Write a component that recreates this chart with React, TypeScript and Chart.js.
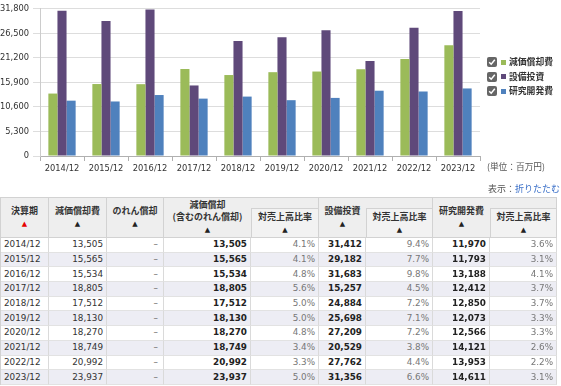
import React, { useEffect, useRef } from 'react';
import { Chart, registerables } from 'chart.js';

Chart.register(...registerables);

const periods = ['2014/12', '2015/12', '2016/12', '2017/12', '2018/12', '2019/12', '2020/12', '2021/12', '2022/12', '2023/12'];
const depreciation = [13505, 15565, 15534, 18805, 17512, 18130, 18270, 18749, 20992, 23937];
const depreciationTotal = [13505, 15565, 15534, 18805, 17512, 18130, 18270, 18749, 20992, 23937];
const capex = [31412, 29182, 31683, 15257, 24884, 25698, 27209, 20529, 27762, 31356];
const rnd = [11970, 11793, 13188, 12412, 12850, 12073, 12566, 14121, 13953, 14611];
const depRatio = ['4.1%', '4.1%', '4.8%', '5.6%', '5.0%', '5.0%', '4.8%', '3.4%', '3.3%', '5.0%'];
const capexRatio = ['9.4%', '7.7%', '9.8%', '4.5%', '7.2%', '7.1%', '7.2%', '3.8%', '4.4%', '6.6%'];
const rndRatio = ['3.6%', '3.1%', '4.1%', '3.7%', '3.7%', '3.3%', '3.3%', '2.6%', '2.2%', '3.1%'];
const seriesNames = ['減価償却費', '設備投資', '研究開発費'];
const seriesColors = ['#9bbb59', '#5f497a', '#4f81bd'];
const yMax = 31800;
const yStep = 5300;

const fmt = (v: number) => v.toLocaleString('en-US');

const LATIN = '"DejaVu Sans", "Noto Sans CJK JP", sans-serif';
const CJK = '"Noto Sans CJK JP", "DejaVu Sans", sans-serif';
const BORDER = '1px solid #d2d2d2';
const HEAD_BG = '#eeeeee';

const th: React.CSSProperties = {
  background: HEAD_BG,
  borderRight: BORDER,
  borderBottom: BORDER,
  fontFamily: CJK,
  fontWeight: 700,
  fontSize: 9,
  lineHeight: '12px',
  color: '#333',
  textAlign: 'center',
  verticalAlign: 'middle',
  padding: 0,
};

const Tri = ({ red }: { red?: boolean }) => (
  <span style={{ fontSize: 7, color: red ? '#e60000' : '#222', fontFamily: LATIN }}>▲</span>
);

const CheckBox = () => (
  <svg width="10" height="10" viewBox="0 0 10 10" style={{ display: 'block' }}>
    <rect x="0" y="0" width="10" height="10" rx="2" fill="#666" />
    <polyline points="2.2,5.2 4.2,7.2 7.8,2.8" fill="none" stroke="#fff" strokeWidth="1.5" />
  </svg>
);

export default function App() {
  const canvasRef = useRef<HTMLCanvasElement | null>(null);

  useEffect(() => {
    document.body.style.margin = '0';
    const canvas = canvasRef.current;
    if (!canvas) return;
    const tickFont = { family: '"DejaVu Sans", sans-serif', size: 8.3 };
    const chart = new Chart(canvas, {
      type: 'bar',
      data: {
        labels: periods,
        datasets: [
          { label: seriesNames[0], data: depreciation, backgroundColor: seriesColors[0], categoryPercentage: 0.62, barPercentage: 1 },
          { label: seriesNames[1], data: capex, backgroundColor: seriesColors[1], categoryPercentage: 0.62, barPercentage: 1 },
          { label: seriesNames[2], data: rnd, backgroundColor: seriesColors[2], categoryPercentage: 0.62, barPercentage: 1 },
        ],
      },
      options: {
        animation: false,
        responsive: false,
        maintainAspectRatio: false,
        layout: { padding: { top: 4, right: 81, left: 0, bottom: 0 } },
        plugins: { legend: { display: false }, tooltip: { enabled: false } },
        scales: {
          x: {
            offset: true,
            grid: { offset: true, drawOnChartArea: false, drawTicks: true, tickLength: 5, color: '#b0b0b0' },
            border: { display: true, color: '#b0b0b0' },
            ticks: { font: tickFont, color: '#333', padding: 3, maxRotation: 0, autoSkip: false },
            afterFit: (s: any) => { s.height = 22; },
          },
          y: {
            min: 0,
            max: yMax,
            ticks: { stepSize: yStep, font: tickFont, color: '#333', padding: 4, callback: (v: any) => fmt(Number(v)) },
            grid: { color: '#dddddd', tickLength: 7 },
            border: { display: true, color: '#cccccc' },
            afterFit: (s: any) => { s.width = 40; },
          },
        },
      },
    } as any);
    return () => chart.destroy();
  }, []);

  const colWidths = [48, 58, 57, 87, 68, 47, 67, 57, 67];

  const tdBase: React.CSSProperties = {
    borderRight: '1px solid #dadada',
    borderBottom: '1px solid #e2e2e2',
    fontFamily: LATIN,
    fontSize: 8.8,
    lineHeight: '13px',
    padding: '0 3px',
    textAlign: 'right',
    whiteSpace: 'nowrap',
    overflow: 'hidden',
  };
  const tdNum: React.CSSProperties = { ...tdBase, color: '#333' };
  const tdBold: React.CSSProperties = { ...tdBase, color: '#222', fontWeight: 700 };
  const tdPct: React.CSSProperties = { ...tdBase, color: '#777' };

  return (
    <div style={{ position: 'relative', width: 561, height: 386, overflow: 'hidden', background: '#fff' }}>
      <canvas ref={canvasRef} width={561} height={178} style={{ display: 'block', position: 'absolute', left: 0, top: 0 }} />

      {seriesNames.map((name, i) => (
        <div key={name} style={{ position: 'absolute', left: 487, top: 56 + i * 14.5, height: 12, display: 'flex', alignItems: 'center' }}>
          <CheckBox />
          <span style={{ display: 'inline-block', width: 5, height: 5, background: seriesColors[i], marginLeft: 4 }} />
          <span style={{ marginLeft: 3, fontFamily: CJK, fontWeight: 700, fontSize: 8.8, color: '#333', lineHeight: '12px' }}>{name}</span>
        </div>
      ))}

      <div style={{ position: 'absolute', left: 487, top: 161, fontFamily: CJK, fontSize: 8.7, color: '#555', lineHeight: '12px' }}>
        (単位：百万円)
      </div>

      <div style={{ position: 'absolute', right: 1, top: 183, fontFamily: CJK, fontSize: 9, lineHeight: '12px', color: '#555' }}>
        表示：<span style={{ color: '#3a6fc8' }}>折りたたむ</span>
      </div>

      <table
        style={{
          position: 'absolute',
          left: 0,
          top: 197,
          borderCollapse: 'separate',
          borderSpacing: 0,
          tableLayout: 'fixed',
          width: 557,
          borderTop: BORDER,
          borderLeft: BORDER,
        }}
      >
        <colgroup>
          {colWidths.map((w, i) => (
            <col key={i} style={{ width: w }} />
          ))}
        </colgroup>
        <thead>
          <tr style={{ height: 11 }}>
            <th rowSpan={2} style={th}>決算期<br /><Tri red /></th>
            <th rowSpan={2} style={th}>減価償却費<br /><Tri /></th>
            <th rowSpan={2} style={th}>のれん償却<br /><Tri /></th>
            <th rowSpan={2} style={{ ...th, borderRight: 'none' }}>減価償却<br />(含むのれん償却)<br /><Tri /></th>
            <th style={{ ...th, padding: 0 }} />
            <th rowSpan={2} style={{ ...th, borderRight: 'none' }}>設備投資<br /><Tri /></th>
            <th style={{ ...th, padding: 0 }} />
            <th rowSpan={2} style={{ ...th, borderRight: 'none' }}>研究開発費<br /><Tri /></th>
            <th style={{ ...th, padding: 0 }} />
          </tr>
          <tr style={{ height: 29 }}>
            <th style={{ ...th, background: '#f2f2f2', borderLeft: BORDER }}>対売上高比率<br /><Tri /></th>
            <th style={{ ...th, background: '#f2f2f2', borderLeft: BORDER }}>対売上高比率<br /><Tri /></th>
            <th style={{ ...th, background: '#f2f2f2', borderLeft: BORDER }}>対売上高比率<br /><Tri /></th>
          </tr>
        </thead>
        <tbody>
          {periods.map((p, i) => {
            const bg = i % 2 === 1 ? '#ededf4' : '#ffffff';
            return (
              <tr key={p} style={{ height: 14.7, background: bg }}>
                <td style={{ ...tdNum, textAlign: 'left' }}>{p}</td>
                <td style={tdNum}>{fmt(depreciation[i])}</td>
                <td style={{ ...tdBase, color: '#666', paddingRight: 5 }}>–</td>
                <td style={tdBold}>{fmt(depreciationTotal[i])}</td>
                <td style={tdPct}>{depRatio[i]}</td>
                <td style={tdBold}>{fmt(capex[i])}</td>
                <td style={tdPct}>{capexRatio[i]}</td>
                <td style={tdBold}>{fmt(rnd[i])}</td>
                <td style={tdPct}>{rndRatio[i]}</td>
              </tr>
            );
          })}
        </tbody>
      </table>
    </div>
  );
}
